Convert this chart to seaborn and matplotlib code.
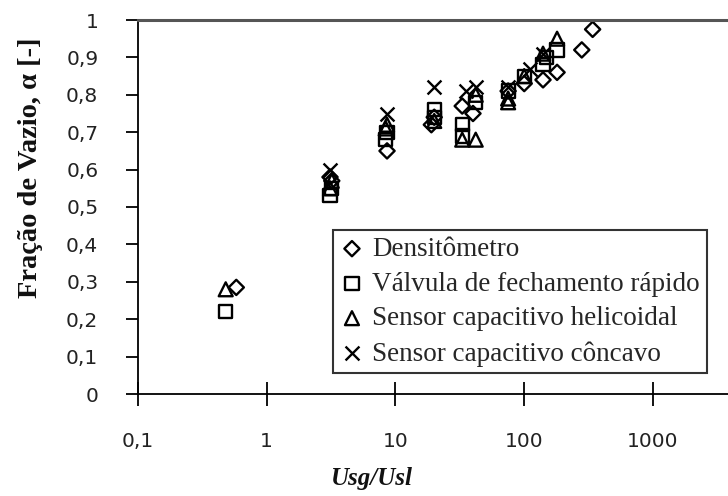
import matplotlib
matplotlib.use("Agg")
import matplotlib.pyplot as plt
import seaborn as sns

# --- data (x = Usg/Usl, y = void fraction) ---
dens_x = [0.58, 3.1, 3.2, 8.6, 19, 20, 33, 40, 75, 100, 140, 180, 280, 340]
dens_y = [0.285, 0.58, 0.57, 0.65, 0.72, 0.74, 0.77, 0.75, 0.81, 0.83, 0.84, 0.86, 0.92, 0.975]

valv_x = [0.48, 3.1, 3.2, 8.4, 8.6, 20, 20, 33, 33, 42, 75, 100, 140, 150, 180]
valv_y = [0.22, 0.53, 0.55, 0.68, 0.70, 0.76, 0.74, 0.72, 0.69, 0.78, 0.81, 0.85, 0.88, 0.90, 0.92]

heli_x = [0.48, 3.1, 3.2, 8.4, 8.6, 20, 33, 42, 42, 75, 75, 100, 140, 180]
heli_y = [0.28, 0.55, 0.57, 0.71, 0.72, 0.73, 0.68, 0.68, 0.80, 0.78, 0.79, 0.85, 0.91, 0.95]

conc_x = [3.1, 8.6, 20, 35, 42, 75, 110, 140]
conc_y = [0.60, 0.75, 0.82, 0.81, 0.82, 0.82, 0.87, 0.91]

labels = ["Densitômetro", "Válvula de fechamento rápido",
          "Sensor capacitivo helicoidal", "Sensor capacitivo côncavo"]

x_ticks = [0.1, 1, 10, 100, 1000]
x_ticklabels = ["0,1", "1", "10", "100", "1000"]
y_ticks = [i / 10 for i in range(11)]
y_ticklabels = ["0"] + ["0,%d" % i for i in range(1, 10)] + ["1"]

sns.set_theme(style="ticks")
plt.rcParams["font.family"] = ["DejaVu Sans"]

fig = plt.figure(figsize=(7.28, 4.96), dpi=100)
ax = fig.add_axes([138 / 728, 102 / 496, 590 / 728, 374 / 496])

sns.scatterplot(x=dens_x, y=dens_y, marker="D", s=60, facecolors="none",
                edgecolor="black", linewidth=1.7, label=labels[0], ax=ax)
sns.scatterplot(x=valv_x, y=valv_y, marker="s", s=90, facecolors="none",
                edgecolor="black", linewidth=1.7, label=labels[1], ax=ax)
sns.scatterplot(x=heli_x, y=heli_y, marker="^", s=100, facecolors="none",
                edgecolor="black", linewidth=1.7, label=labels[2], ax=ax)
sns.scatterplot(x=conc_x, y=conc_y, marker="x", s=100, color="black",
                linewidth=1.7, label=labels[3], ax=ax)

ax.set_xscale("log")
ax.set_xlim(0.1, 10 ** 3.583)
ax.set_ylim(0, 1)
ax.set_xticks(x_ticks)
ax.set_xticklabels(x_ticklabels)
ax.minorticks_off()
ax.set_yticks(y_ticks)
ax.set_yticklabels(y_ticklabels)

ax.tick_params(axis="x", direction="inout", length=17, width=1.3, pad=19,
               labelsize=14.5, colors="black", labelcolor="#222222")
ax.tick_params(axis="y", direction="out", length=8.6, width=1.3, pad=20,
               labelsize=14.5, colors="black", labelcolor="#222222")

ax.spines["left"].set_linewidth(1.3)
ax.spines["bottom"].set_linewidth(1.3)
ax.spines["left"].set_color("black")
ax.spines["bottom"].set_color("black")
ax.spines["right"].set_visible(False)
ax.spines["top"].set_color("#555555")
ax.spines["top"].set_linewidth(2.2)

ax.set_xlabel("Usg/Usl", fontfamily="Liberation Serif", fontweight="bold",
              fontstyle="italic", fontsize=18, color="#111111")
ax.xaxis.set_label_coords(0.397, -0.225)
ax.xaxis.label.set_verticalalignment("center")
ax.set_ylabel("Fração de Vazio, α [-]", fontfamily="Liberation Serif",
              fontweight="bold", fontsize=20.5, color="#111111")
ax.yaxis.set_label_coords(-0.183, 0.604)
ax.yaxis.label.set_verticalalignment("center")

leg = ax.legend(loc="upper left", bbox_to_anchor=(0.3305, 0.4385),
                borderaxespad=0, frameon=True, fancybox=False,
                prop={"family": "Liberation Serif", "size": 19.5},
                handletextpad=0.3, labelspacing=0.36, handlelength=0.9,
                borderpad=0.25, markerscale=1.0)
leg.get_frame().set_edgecolor("#333333")
leg.get_frame().set_linewidth(1.5)
leg.get_frame().set_alpha(1)

fig.savefig("out.png", dpi=100)
